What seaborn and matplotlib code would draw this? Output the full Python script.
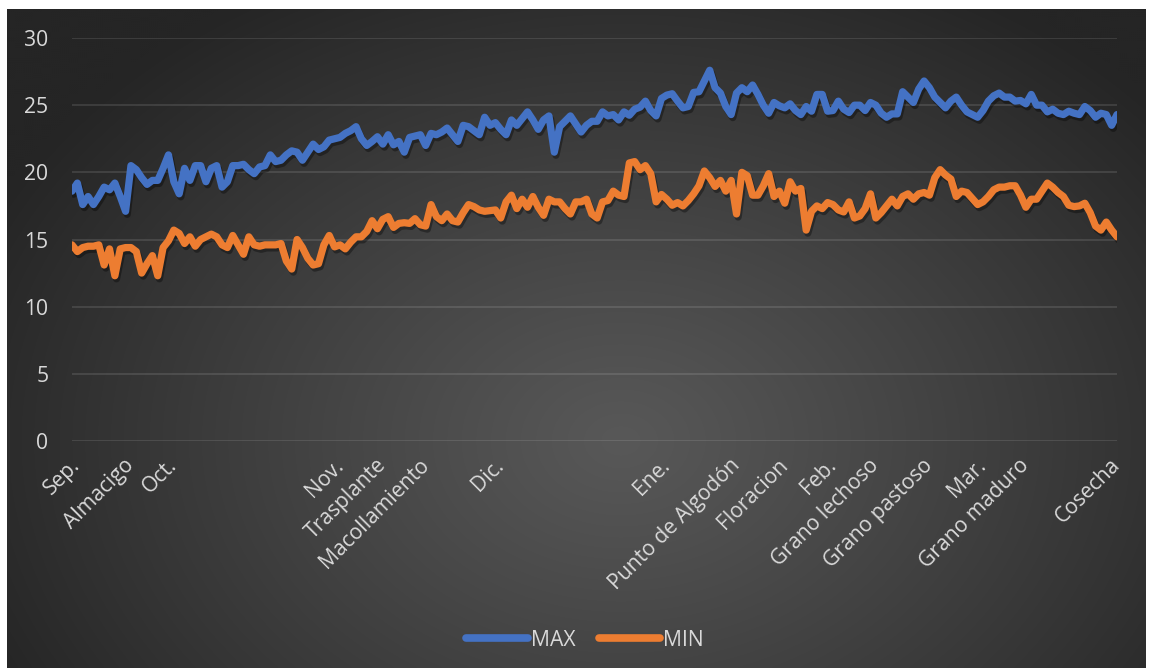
import numpy as np
import pandas as pd
import matplotlib
matplotlib.use("Agg")
import matplotlib.pyplot as plt
import matplotlib.patheffects as pe
from matplotlib.lines import Line2D
from matplotlib.transforms import ScaledTranslation
import seaborn as sns

# Daily maximum and minimum temperature (°C), mid-September to end of March
max_temp = [
    18.6, 19.2, 17.6, 18.2, 17.6, 18.2, 18.9, 18.7, 19.2, 18.2,
    17.1, 20.5, 20.2, 19.6, 19.1, 19.4, 19.4, 20.3, 21.3, 19.3,
    18.4, 20.3, 19.4, 20.5, 20.5, 19.3, 20.3, 20.5, 18.9, 19.3,
    20.5, 20.5, 20.6, 20.2, 19.9, 20.4, 20.5, 21.3, 20.8, 20.9,
    21.3, 21.6, 21.5, 20.9, 21.5, 22.1, 21.7, 21.9, 22.4, 22.5,
    22.6, 22.9, 23.1, 23.4, 22.5, 22.0, 22.3, 22.65, 22.1, 22.8,
    22.05, 22.3, 21.5, 22.6, 22.7, 22.8, 22.0, 22.9, 22.8, 23.0,
    23.3, 22.8, 22.3, 23.5, 23.4, 23.1, 22.8, 24.1, 23.5, 23.7,
    23.2, 22.8, 23.9, 23.5, 24.0, 24.5, 23.9, 23.2, 23.9, 24.2,
    21.5, 23.4, 23.8, 24.2, 23.6, 23.0, 23.5, 23.8, 23.8, 24.5,
    24.2, 24.3, 23.9, 24.5, 24.25, 24.7, 24.85, 25.3, 24.6, 24.2,
    25.5, 25.75, 25.85, 25.3, 24.8, 24.9, 25.95, 26.0, 26.8, 27.6,
    26.3, 25.9, 24.9, 24.3, 25.9, 26.3, 26.0, 26.5, 25.8, 25.0,
    24.4, 25.2, 24.95, 24.8, 25.1, 24.6, 24.3, 24.9, 24.55, 25.8,
    25.8, 24.55, 24.6, 25.3, 24.7, 24.45, 25.0, 25.0, 24.6, 25.2,
    25.0, 24.4, 24.1, 24.35, 24.35, 26.0, 25.6, 25.2, 26.2, 26.8,
    26.3, 25.6, 25.2, 24.8, 25.3, 25.6, 25.0, 24.5, 24.3, 24.1,
    24.6, 25.3, 25.7, 25.9, 25.6, 25.6, 25.3, 25.35, 25.1, 25.8,
    25.0, 25.0, 24.5, 24.7, 24.4, 24.3, 24.55, 24.4, 24.3, 24.9,
    24.6, 24.1, 24.4, 24.3, 23.5, 24.3,
]
min_temp = [
    14.6, 14.1, 14.4, 14.5, 14.5, 14.6, 13.1, 14.3, 12.3, 14.3,
    14.4, 14.4, 14.1, 12.5, 13.2, 13.8, 12.3, 14.4, 14.9, 15.7,
    15.45, 14.7, 15.2, 14.5, 15.0, 15.2, 15.4, 15.2, 14.6, 14.4,
    15.3, 14.6, 13.9, 15.2, 14.6, 14.5, 14.6, 14.6, 14.6, 14.7,
    13.4, 12.8, 15.0, 14.4, 13.6, 13.1, 13.2, 14.6, 15.3, 14.45,
    14.6, 14.3, 14.8, 15.2, 15.2, 15.6, 16.4, 15.8, 16.5, 16.7,
    15.9, 16.2, 16.25, 16.2, 16.55, 16.1, 16.0, 17.6, 16.7, 16.4,
    16.9, 16.4, 16.3, 17.0, 17.6, 17.45, 17.2, 17.1, 17.15, 17.2,
    16.6, 17.8, 18.3, 17.3, 18.0, 17.4, 18.2, 17.4, 16.8, 18.0,
    17.8, 17.8, 17.3, 16.9, 17.8, 17.8, 18.0, 16.9, 16.6, 17.8,
    17.9, 18.6, 18.3, 18.2, 20.7, 20.8, 20.2, 20.5, 19.9, 17.8,
    18.35, 18.0, 17.55, 17.75, 17.5, 17.9, 18.4, 19.0, 20.1, 19.6,
    18.95, 19.4, 18.6, 19.4, 16.9, 20.0, 19.75, 18.3, 18.3, 19.0,
    19.9, 18.2, 18.6, 17.7, 19.3, 18.6, 18.8, 15.7, 17.1, 17.5,
    17.3, 17.75, 17.6, 17.2, 17.05, 17.8, 16.6, 16.75, 17.3, 18.4,
    16.6, 17.0, 17.5, 18.0, 17.5, 18.2, 18.4, 18.0, 18.4, 18.5,
    18.3, 19.6, 20.2, 19.8, 19.5, 18.2, 18.6, 18.5, 18.05, 17.6,
    17.8, 18.2, 18.7, 18.9, 18.9, 19.0, 19.0, 18.3, 17.4, 18.0,
    18.0, 18.6, 19.2, 18.9, 18.5, 18.2, 17.55, 17.45, 17.5, 17.7,
    17.0, 16.0, 15.7, 16.3, 15.7, 15.2,
]

# Month and crop-stage labels placed on the day they refer to
stage_index = [0, 10, 18, 49, 57, 65, 79, 110, 123, 132, 141, 149, 159, 169, 177, 194]
stage_label = ["Sep.", "Almacigo", "Oct.", "Nov.", "Trasplante", "Macollamiento",
               "Dic.", "Ene.", "Punto de Algodón", "Floracion", "Feb.",
               "Grano lechoso", "Grano pastoso", "Mar.", "Grano maduro", "Cosecha"]
series_names = ["MAX", "MIN"]
series_colors = ["#4472C4", "#ED7D31"]
y_ticks = [0, 5, 10, 15, 20, 25, 30]

assert len(max_temp) == len(min_temp)
n_days = len(max_temp)

df = pd.DataFrame({
    "dia": list(range(n_days)) * 2,
    "temp": max_temp + min_temp,
    "serie": [series_names[0]] * n_days + [series_names[1]] * n_days,
})

sns.set_theme(style="dark")
plt.rcParams["font.family"] = ["Open Sans", "DejaVu Sans"]

W, H = 1152, 670
fig = plt.figure(figsize=(W / 100, H / 100), dpi=100, facecolor="white")

# Dark panel with a soft radial highlight
panel = fig.add_axes([7 / W, 1 - 668 / H, (1146 - 7) / W, (668 - 9) / H])
panel.set_axis_off()
gh, gw = 330, 570
yy, xx = np.mgrid[0:gh, 0:gw]
px = 7 + xx * (1139 / gw)
py = 9 + yy * (659 / gh)
d = np.sqrt(((px - 620) / 700) ** 2 + ((py - 440) / 520) ** 2)
t = np.clip(d, 0, 1) ** 1.1
c_in, c_out = 0x58 / 255, 0x25 / 255
shade = c_in * (1 - t) + c_out * t
img = np.dstack([shade, shade, shade])
panel.imshow(img, aspect="auto", extent=[0, 1, 0, 1], interpolation="bicubic")
panel.set_xlim(0, 1)
panel.set_ylim(0, 1)

ax = fig.add_axes([72 / W, 1 - 441 / H, (1117 - 72) / W, (441 - 38) / H])
ax.set_facecolor("none")

sns.lineplot(data=df, x="dia", y="temp", hue="serie",
             palette=dict(zip(series_names, series_colors)),
             linewidth=5.2, ax=ax, legend=False, sort=False)

for line in ax.lines:
    line.set_solid_capstyle("round")
    line.set_solid_joinstyle("round")
    line.set_path_effects([
        pe.SimpleLineShadow(offset=(1.2, -2.2), shadow_color="black", alpha=0.35),
        pe.Normal(),
    ])

ax.set_xlim(0, n_days - 1)
ax.set_ylim(0, 30)
ax.set_yticks(y_ticks)
ax.set_yticklabels([str(v) for v in y_ticks])
ax.set_xticks(stage_index)
ax.set_xticklabels(stage_label, rotation=45, ha="right", va="top",
                   rotation_mode="anchor")
ax.set_xlabel("")
ax.set_ylabel("")

label_color = "#d9d9d9"
font_size = 15.2
ax.tick_params(axis="y", length=0, pad=17, labelsize=font_size, colors=label_color)
ax.tick_params(axis="x", length=0, pad=10, labelsize=font_size, colors=label_color)
shift = ScaledTranslation(-2 / 100, 0, fig.dpi_scale_trans)
for lab in ax.get_xticklabels():
    lab.set_transform(lab.get_transform() + shift)

ax.yaxis.grid(True, color="white", alpha=0.12, linewidth=1.3)
ax.xaxis.grid(False)
for sp in ax.spines.values():
    sp.set_visible(False)

handles = [Line2D([0], [0], color=c, linewidth=5.5, solid_capstyle="round")
           for c in series_colors]
fig.legend(handles, series_names, loc="center", bbox_to_anchor=(585 / W, 1 - 640 / H),
           ncol=2, frameon=False, handlelength=2.9, handletextpad=0.15,
           columnspacing=1.1, fontsize=font_size, labelcolor=label_color)

fig.savefig("out.png", dpi=100, facecolor="white")
